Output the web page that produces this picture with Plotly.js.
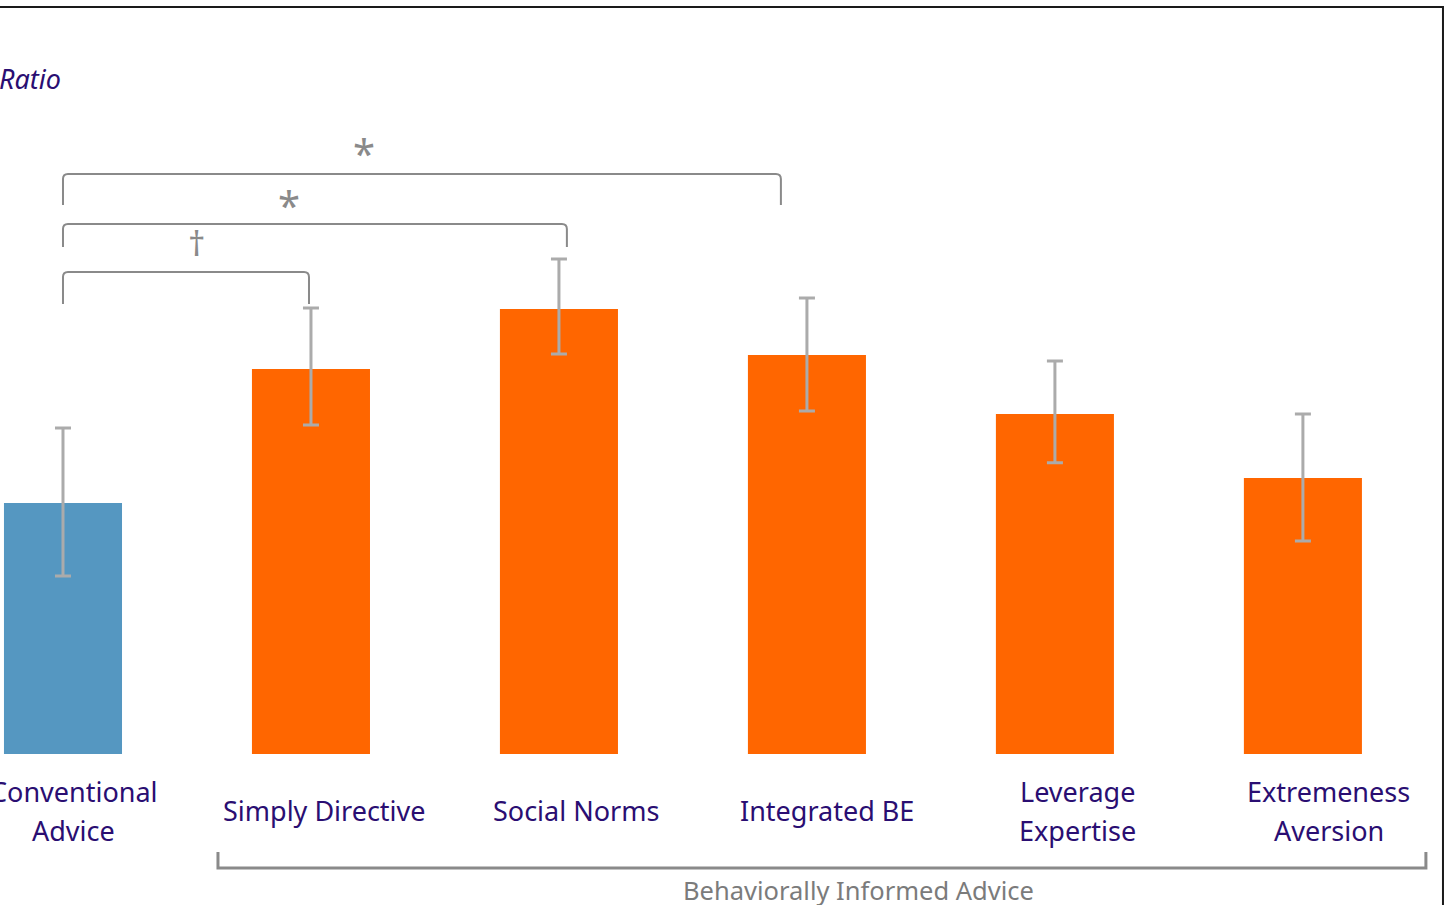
<!DOCTYPE html>
<html>
<head>
<meta charset="utf-8">
<script src="https://cdn.plot.ly/plotly-3.0.1.min.js"></script>
<style>html,body{margin:0;padding:0;background:#fff;}#chart{width:1445px;height:905px;}</style>
</head>
<body>
<div id="chart"></div>
<script>
// ---- data ----
const categories = ["Conventional<br>Advice", "Simply Directive", "Social Norms", "Integrated BE", "Leverage<br>Expertise", "Extremeness<br>Aversion"];
const positions = [0, 1, 2, 3, 4, 5];
const ratioValues = [1.000, 1.534, 1.773, 1.590, 1.355, 1.100];
const errorPlus  = [0.299, 0.243, 0.199, 0.227, 0.211, 0.255];
const errorMinus = [0.291, 0.223, 0.179, 0.223, 0.195, 0.251];
const barColors = ["#5597c1", "#ff6600", "#ff6600", "#ff6600", "#ff6600", "#ff6600"];
const groupLabel = "Behaviorally Informed Advice";
const yTitle = "Ratio";
const sigMarks = ["\u2020", "*", "*"];

const purple = "#2a0e72";
const grey = "#8a8a8a";
const font = "'Noto Sans', 'Open Sans', sans-serif";

const trace = {
  type: "bar",
  x: positions,
  y: ratioValues,
  marker: {color: barColors},
  error_y: {type: "data", symmetric: false, array: errorPlus, arrayminus: errorMinus,
            color: "#ababab", thickness: 3, width: 8},
  hoverinfo: "skip"
};

function bracket(xl, xr, yh, yb, rx, ry) {
  return {type: "path", xref: "x", yref: "y",
    path: `M ${xl},${yb} L ${xl},${yh - ry} Q ${xl},${yh} ${xl + rx},${yh} L ${xr - rx},${yh} Q ${xr},${yh} ${xr},${yh - ry} L ${xr},${yb}`,
    line: {color: grey, width: 2}};
}

const shapes = [
  bracket(0, 0.992, 1.920, 1.793, 0.02, 0.02),
  bracket(0, 2.032, 2.112, 2.020, 0.02, 0.02),
  bracket(0, 2.895, 2.311, 2.187, 0.02, 0.02),
  {type: "path", xref: "x", yref: "y",
   path: "M 0.625,-0.390 L 0.625,-0.454 L 5.496,-0.454 L 5.496,-0.390",
   line: {color: grey, width: 3}},
  {type: "rect", xref: "paper", yref: "paper", x0: -0.01, x1: 0.9986, y0: -0.02, y1: 0.9923,
   line: {color: "#1a1a1a", width: 2}}
];

const annotations = [];
categories.forEach((c, i) => {
  const lines = c.split("<br>");
  const n = lines.length;
  lines.forEach((ln, j) => {
    annotations.push({
      x: positions[i], y: -0.226, xref: "x", yref: "y", text: ln, showarrow: false,
      xshift: 11 + 3 * i, yshift: ((n - 1) / 2 - j) * 39, xanchor: "center", yanchor: "middle",
      font: {family: font, size: 27, color: purple}
    });
  });
});
annotations.push(
  {x: 0.540, y: 2.036, xref: "x", yref: "y", text: sigMarks[0], showarrow: false, font: {family: font, size: 34, color: grey}},
  {x: 0.911, y: 2.190, xref: "x", yref: "y", text: sigMarks[1], showarrow: false, font: {family: font, size: 40, color: grey}},
  {x: 1.214, y: 2.397, xref: "x", yref: "y", text: sigMarks[2], showarrow: false, font: {family: font, size: 40, color: grey}},
  {x: 3.206, y: -0.543, xref: "x", yref: "y", text: groupLabel, showarrow: false, font: {family: font, size: 25.5, color: "#7b7b7b"}},
  {x: -0.002, y: 0.913, xref: "paper", yref: "paper", xanchor: "left", yanchor: "middle", text: "<i>" + yTitle + "</i>", showarrow: false,
   font: {family: font, size: 27, color: purple}}
);

const layout = {
  width: 1445, height: 905,
  margin: {l: 0, r: 0, t: 0, b: 0, pad: 0},
  paper_bgcolor: "#ffffff", plot_bgcolor: "#ffffff",
  showlegend: false,
  bargap: 0.524,
  xaxis: {range: [-0.254, 5.573], showticklabels: false, showgrid: false, zeroline: false, showline: false, ticks: ""},
  yaxis: {range: [-0.6016, 3.004], showticklabels: false, showgrid: false, zeroline: false, showline: false, ticks: ""},
  shapes: shapes,
  annotations: annotations
};

Plotly.newPlot("chart", [trace], layout, {displayModeBar: false, staticPlot: true});
</script>
</body>
</html>
